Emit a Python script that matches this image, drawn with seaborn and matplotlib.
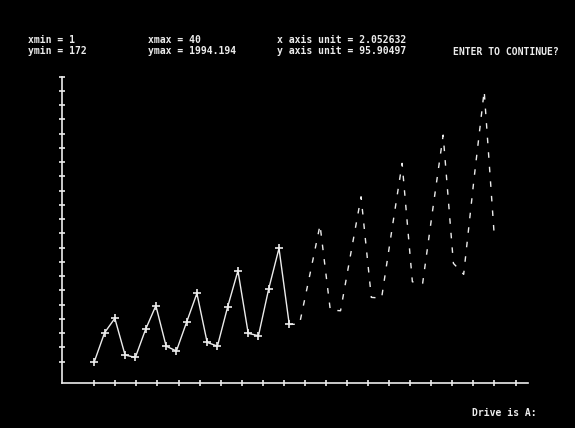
import matplotlib
matplotlib.use("Agg")
import matplotlib.pyplot as plt
import seaborn as sns
import pandas as pd

# observed quarters (solid with + markers)
obs_x = list(range(1, 21))
obs_y = [172, 367, 464, 217, 201, 390, 549, 277, 244, 439,
         632, 302, 277, 542, 784, 363, 347, 663, 935, 423]

# forecast quarters (dashed), starts from last observed point
fc_x = list(range(20, 41))
fc_y = [423, 425, 755, 1092, 520, 515, 901, 1282, 605, 600, 1058,
        1507, 710, 699, 1204, 1697, 834, 760, 1397, 1994.194, 1002]

xmin, xmax = 1, 40
ymin, ymax = 172, 1994.194
x_unit = 2.052632
y_unit = 95.90497

header_left = ["xmin = 1", "ymin = 172"]
header_mid = ["xmax = 40", "ymax = 1994.194"]
header_right = ["x axis unit = 2.052632", "y axis unit = 95.90497"]
prompt = "ENTER TO CONTINUE?"
footer = "Drive is A:"

sns.set_style("dark", {"axes.facecolor": "black", "figure.facecolor": "black"})
plt.rcParams["font.family"] = ["DejaVu Sans Mono"]

fg = "#ececec"

fig = plt.figure(figsize=(5.75, 4.28), dpi=100)
ax = fig.add_axes([0.1078, 0.1051, 0.811, 0.7157])
ax.set_facecolor("black")

obs = pd.DataFrame({"x": obs_x, "y": obs_y})
fc = pd.DataFrame({"x": fc_x, "y": fc_y})

sns.lineplot(data=obs, x="x", y="y", ax=ax, color=fg, linewidth=1.0,
             marker="+", markersize=6, markeredgewidth=1.2,
             markeredgecolor=fg)
sns.lineplot(data=fc, x="x", y="y", ax=ax, color=fg, linewidth=1.0)
ax.lines[-1].set_dashes((4, 6.5))

ax.set_xlim(-2.15, 43.3)
ax.set_ylim(28.7, 2090)

ax.set_xticks([xmin + k * x_unit for k in range(21)])
ax.set_yticks([ymin + k * y_unit for k in range(21)])
ax.tick_params(bottom=True, left=True, direction="inout", length=5,
               width=1.2, color=fg, labelbottom=False, labelleft=False)
ax.set_xlabel("")
ax.set_ylabel("")
ax.grid(False)

for side in ["top", "right"]:
    ax.spines[side].set_visible(False)
for side in ["left", "bottom"]:
    ax.spines[side].set_visible(True)
    ax.spines[side].set_color(fg)
    ax.spines[side].set_linewidth(1.2)

W, H = 575, 428
fs = 7.0
kw = dict(color=fg, fontsize=fs, fontweight="bold", va="center", ha="left")
for i, (a, b, c) in enumerate(zip(header_left, header_mid, header_right)):
    yy = 1 - (40 + 11 * i) / H
    fig.text(28 / W, yy, a, **kw)
    fig.text(148 / W, yy, b, **kw)
    fig.text(277 / W, yy, c, **kw)
fig.text(453 / W, 1 - 52 / H, prompt, **kw)
fig.text(472 / W, 1 - 413 / H, footer, **kw)

fig.savefig("out.png", dpi=100, facecolor="black")
plt.close(fig)
